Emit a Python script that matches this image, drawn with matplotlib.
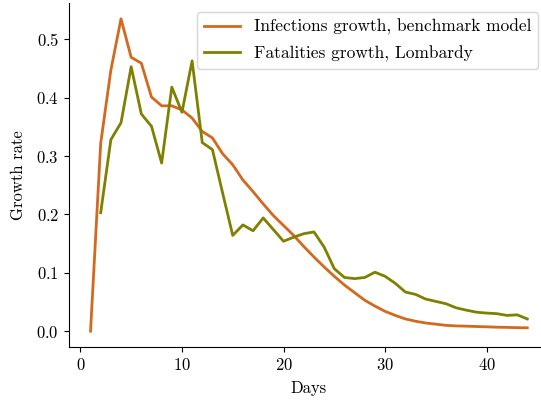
import matplotlib
matplotlib.use("Agg")
import matplotlib.pyplot as plt

plt.rcParams["font.family"] = "serif"
plt.rcParams["font.serif"] = ["cmr10"]
plt.rcParams["axes.formatter.use_mathtext"] = True
plt.rcParams["font.size"] = 12

# daily growth rates
days_inf = list(range(1, 45))
infections = [
    0.0, 0.322, 0.447, 0.535, 0.469, 0.459, 0.401, 0.386, 0.386, 0.379,
    0.365, 0.342, 0.331, 0.304, 0.285, 0.259, 0.239, 0.218, 0.198, 0.181,
    0.164, 0.145, 0.127, 0.110, 0.094, 0.079, 0.066, 0.053, 0.043, 0.034,
    0.027, 0.021, 0.017, 0.014, 0.012, 0.010, 0.009, 0.0086, 0.008, 0.0075,
    0.0068, 0.0065, 0.006, 0.0058,
]

days_fat = list(range(2, 45))
fatalities = [
    0.203, 0.328, 0.357, 0.453, 0.372, 0.351, 0.288, 0.418, 0.375, 0.463,
    0.323, 0.311, 0.237, 0.164, 0.182, 0.172, 0.194, 0.174, 0.154, 0.161,
    0.167, 0.170, 0.144, 0.107, 0.092, 0.090, 0.092, 0.101, 0.094, 0.082,
    0.067, 0.063, 0.055, 0.051, 0.047, 0.040, 0.036, 0.0325, 0.031, 0.030,
    0.027, 0.028, 0.021,
]

fig = plt.figure(figsize=(5.41, 4.0), dpi=100)
ax = fig.add_axes([0.127, 0.133, 0.888, 0.859])

ax.plot(days_inf, infections, color="#d2691e", lw=2,
        label="Infections growth, benchmark model")
ax.plot(days_fat, fatalities, color="#808000", lw=2,
        label="Fatalities growth, Lombardy")

ax.set_xlabel("Days", labelpad=6)
ax.set_ylabel("Growth rate", labelpad=7)
ax.set_xticks([0, 10, 20, 30, 40])
ax.set_yticks([0.0, 0.1, 0.2, 0.3, 0.4, 0.5])
ax.spines["top"].set_visible(False)
ax.spines["right"].set_visible(False)
ax.legend(loc="upper right", fontsize=12.5, handlelength=2.1,
          handletextpad=0.8, labelspacing=0.6, borderaxespad=0,
          bbox_to_anchor=(0.995, 0.97), bbox_transform=fig.transFigure)

fig.savefig("out.png", dpi=100)
